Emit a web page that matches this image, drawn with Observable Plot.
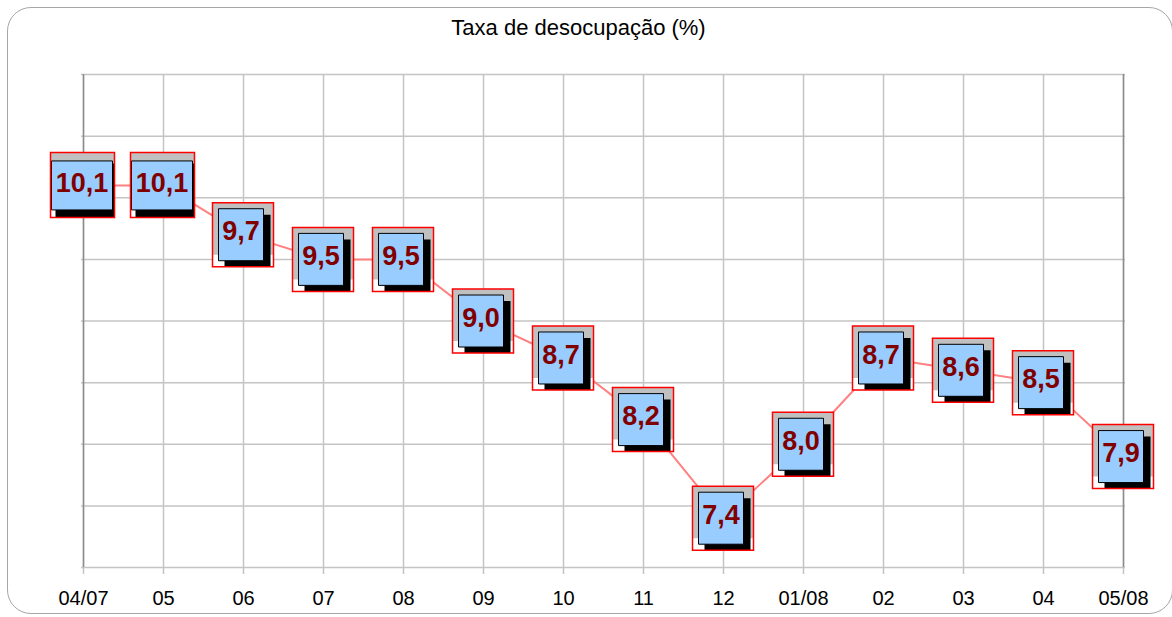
<!DOCTYPE html>
<html>
<head>
<meta charset="utf-8">
<script src="https://cdn.jsdelivr.net/npm/d3@7"></script>
<script src="https://cdn.jsdelivr.net/npm/@observablehq/plot@0.6"></script>
<style>
  html, body { margin: 0; padding: 0; background: #fff; }
  #wrap { position: relative; width: 1172px; height: 617px; overflow: hidden; background: #fff; }
  #border { position: absolute; left: 6.5px; top: 6.5px; width: 1166px; height: 607px; box-sizing: border-box;
            border: 1.5px solid #a6a6a6; border-radius: 24px; pointer-events: none; }
  #title { height: 50px; box-sizing: border-box; padding-top: 17px; width: 1157px; text-align: center;
           font-family: "Liberation Sans", Arial, sans-serif; font-size: 22px; line-height: 22px; color: #000; }
  #chart svg { display: block; }
</style>
</head>
<body>
<div id="wrap">
  <div id="title">Taxa de desocupação (%)</div>
  <div id="chart"></div>
  <div id="border"></div>
</div>
<script>
const months = ["04/07", "05", "06", "07", "08", "09", "10", "11", "12", "01/08", "02", "03", "04", "05/08"];
const rate = [10.1, 10.1, 9.7, 9.5, 9.5, 9.0, 8.7, 8.2, 7.4, 8.0, 8.7, 8.6, 8.5, 7.9];
const yTicks = [7, 7.5, 8, 8.5, 9, 9.5, 10, 10.5, 11];

const data = months.map((m, i) => ({
  month: m,
  rate: rate[i],
  label: rate[i].toFixed(1).replace(".", ",")
}));
const narrow = data.filter(d => d.label.length <= 3);
const wide = data.filter(d => d.label.length > 3);

const rectSym = (x, y, w, h) => ({ draw(ctx) { ctx.rect(x, y, w, h); } });

// box layers for narrow and wide labels
const layers = (subset, g) => [
  Plot.dot(subset, {x: "month", y: "rate", symbol: rectSym(...g.red), fill: "#ffffff", stroke: "none"}),
  Plot.dot(subset, {x: "month", y: "rate", symbol: rectSym(...g.gray), fill: "#c0c0c0", stroke: "none"}),
  Plot.dot(subset, {x: "month", y: "rate", symbol: rectSym(...g.shadow), fill: "#000000", stroke: "none"}),
  Plot.dot(subset, {x: "month", y: "rate", symbol: rectSym(...g.blue), fill: "#99ccff", stroke: "#000000", strokeWidth: 1}),
  Plot.dot(subset, {x: "month", y: "rate", symbol: rectSym(...g.red), fill: "none", stroke: "#ff0000", strokeWidth: 1.5}),
  Plot.text(subset, {x: "month", y: "rate", text: "label", dx: g.dx, dy: g.dy, fontSize: 27, fontWeight: "bold",
                     lineAnchor: "middle", fill: "#800000",
                     fontFamily: "Liberation Sans, Arial, sans-serif"})
];

const narrowGeom = {red: [-31, -32, 61, 64], gray: [-31, -32, 61, 52], shadow: [-19, -20, 46, 52], blue: [-25, -26, 45, 52], dx: -2.5, dy: -3};
const wideGeom = {red: [-33, -33, 64, 65], gray: [-33, -33, 64, 20], shadow: [-28, -22, 59, 54], blue: [-32, -24.5, 61, 49], dx: -1.5, dy: -2};

const chart = Plot.plot({
  width: 1172,
  height: 567,
  marginTop: 24,
  marginBottom: 50,
  marginLeft: 81,
  marginRight: 47,
  x: {type: "point", domain: months, padding: 0, axis: null},
  y: {domain: [7, 11], axis: null},
  style: {background: "transparent", fontFamily: "Liberation Sans, Arial, sans-serif"},
  marks: [
    Plot.ruleY(yTicks, {stroke: "#c4c4c4", strokeWidth: 1.5}),
    Plot.ruleX(months, {stroke: "#c4c4c4", strokeWidth: 1.5, insetBottom: -7}),
    Plot.ruleX([months[0], months[months.length - 1]], {stroke: "#8c8c8c", strokeWidth: 1.5}),
    Plot.text(months, {x: d => d, frameAnchor: "bottom", lineAnchor: "middle", dy: 31.5, fontSize: 20, fill: "#000"}),
    Plot.line(data, {x: "month", y: "rate", stroke: "#ff8080", strokeWidth: 2}),
    ...layers(narrow, narrowGeom),
    ...layers(wide, wideGeom)
  ]
});
document.getElementById("chart").appendChild(chart);
</script>
</body>
</html>
